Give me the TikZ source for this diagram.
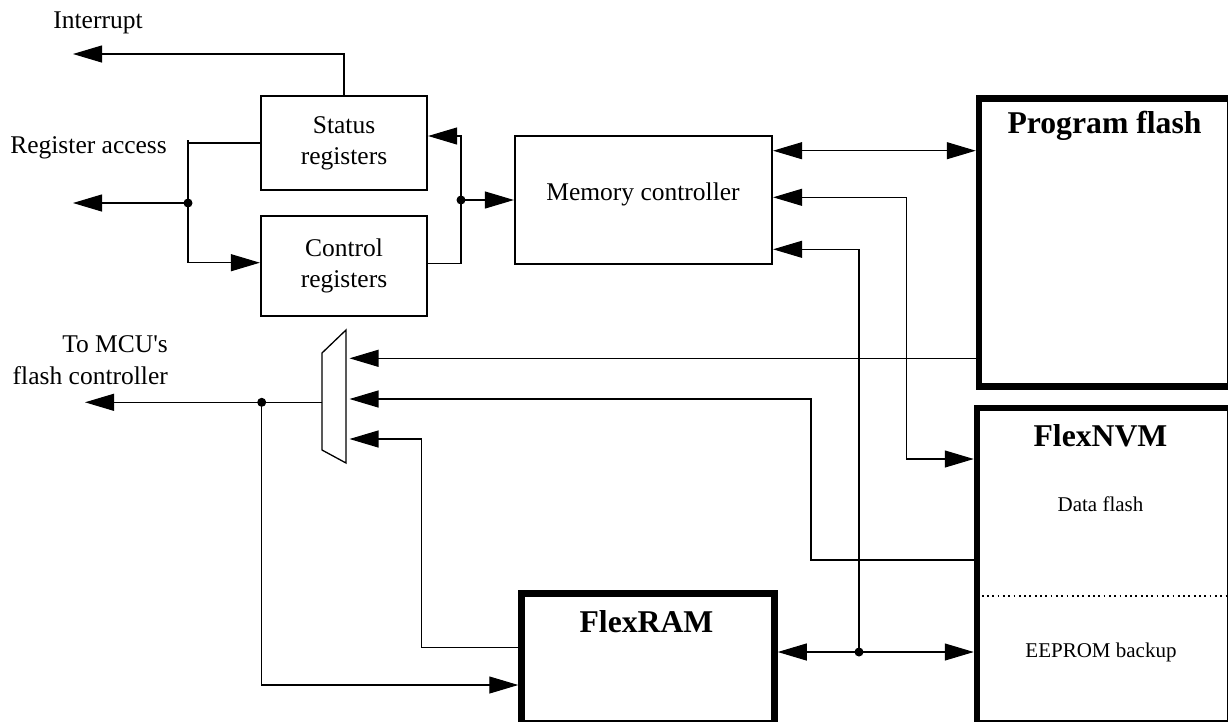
\documentclass[tikz,border=0pt]{standalone}
\usepackage{fontspec}
\setmainfont{Liberation Serif}
\usetikzlibrary{arrows.meta}
\begin{document}
\begin{tikzpicture}[x=1pt,y=-1pt,
  wire/.style={line width=1.1pt},
  arr/.style={wire,-{Triangle[length=29pt,width=17pt]}},
  darr/.style={wire,{Triangle[length=29pt,width=17pt]}-{Triangle[length=29pt,width=17pt]}},
  regbox/.style={draw,line width=2.2pt,inner sep=0pt,align=center,font=\fontsize{25.5}{31}\selectfont},
  bigbox/.style={draw,line width=6.5pt,inner sep=0pt},
  lbl/.style={inner sep=0pt,font=\fontsize{25.5}{31}\selectfont},
  title/.style={inner sep=0pt,font=\fontsize{31.7}{36}\selectfont\bfseries},
  small/.style={inner sep=0pt,font=\fontsize{21}{25}\selectfont},
  dot/.style={circle,fill,inner sep=0pt,minimum size=9pt},
  muxshape/.style={line width=1.3pt}
]
\fill[white] (0,0) rectangle (1228,721);
\useasboundingbox (0,0) rectangle (1228,721);

% boxes
\node[regbox,minimum width=166pt,minimum height=94pt] (status) at (344,143) {Status\\registers};
\node[regbox,minimum width=166pt,minimum height=100pt] (control) at (344,266) {Control\\registers};
\node[regbox,minimum width=257pt,minimum height=128pt] (mc) at (643.5,200) {};
\node[lbl,anchor=base] (mctext) at (643,200.5) {Memory controller};
\node[bigbox,minimum width=251pt,minimum height=288pt] (pflash) at (1104.5,242.5) {};
\node[bigbox,minimum width=253pt,minimum height=315.5pt] (nvm) at (1103.5,565.75) {};
\node[bigbox,minimum width=253pt,minimum height=130pt] (fram) at (648,658.5) {};

% mux
\draw[muxshape] (322,353) coordinate (muxtl) -- (346,330) coordinate (muxtr)
  -- (346,463) coordinate (muxbr) -- (322,450) coordinate (muxbl) -- cycle;

% junctions and free ends
\node[dot] (rj) at (188,203) {};
\node[dot] (mj) at (461,200) {};
\node[dot] (xj) at (261.7,402.3) {};
\node[dot] (fj) at (859,652) {};
\coordinate (intr) at (73,54);
\coordinate (rtop) at (188,140);
\coordinate (raout) at (73,203);
\coordinate (mo) at (322,402.3);
\coordinate (mcuout) at (85,402.3);
\coordinate (mi1) at (349.5,358.3);
\coordinate (mi2) at (349.5,399);
\coordinate (mi3) at (349.5,439);
\coordinate (v2) at (811,399);
\coordinate (v3) at (421.7,439);
\coordinate (b1) at (906.5,459);

% left side
\draw[arr] (status.north) |- (intr);
\draw[wire] (status.west) -- (status.west -| rtop);
\draw[arr] (rtop) |- ([yshift=3.3pt]control.west);
\draw[arr] (rj.center) -- (raout);

% register to memory controller
\draw[wire] ([yshift=2.7pt]control.east) -| (mj.center);
\draw[arr] (mj.center) |- ([yshift=7pt]status.east);
\draw[arr] (mj.center) -- (mc.west);

% memory controller right side
\draw[darr] ([yshift=49.3pt]mc.east) -- ([yshift=49.3pt]mc.east -| pflash.west);
\draw[darr] ([yshift=2.7pt]mc.east) -| (b1) -- (b1 -| nvm.west);
\draw[arr] (fj.center) |- ([yshift=-49.3pt]mc.east);
\draw[arr] (fj.center) -- (fj.center -| fram.east);
\draw[arr] (fj.center) -- (fj.center -| nvm.west);

% mux inputs
\draw[arr] (mi1 -| pflash.west) -- (mi1);
\draw[arr] ([yshift=5.75pt]nvm.west) -| (v2) -- (mi2);
\draw[arr] ([yshift=11.2pt]fram.west) -| (v3) -- (mi3);

% mux output
\draw[arr] (mo) -- (mcuout);
\draw[arr] (xj.center) |- ([yshift=-26.5pt]fram.west);

% FlexNVM divider
\draw[line width=1.8pt, dash pattern=on 1.8pt off 3.5pt] (nvm.west |- 0,596) ++(8,0) -- (1228,596);

% labels
\node[lbl,anchor=base] (intrl) at (98,28) {Interrupt};
\node[lbl,anchor=base east] (ral) at (167,153) {Register access};
\node[lbl,anchor=base east] (mcu1) at (168,352.5) {To MCU\textquotesingle s};
\node[lbl,anchor=base east] (mcu2) at (168,384) {flash controller};
\node[title,anchor=base] (pft) at (1104.5,133) {Program flash};
\node[title,anchor=base] (nvmt) at (1100.5,446) {FlexNVM};
\node[small,anchor=base] (dft) at (1100.5,511) {Data flash};
\node[small,anchor=base] (eet) at (1101,657) {EEPROM backup};
\node[title,anchor=base] (frt) at (646.5,632) {FlexRAM};
\end{tikzpicture}
\end{document}
